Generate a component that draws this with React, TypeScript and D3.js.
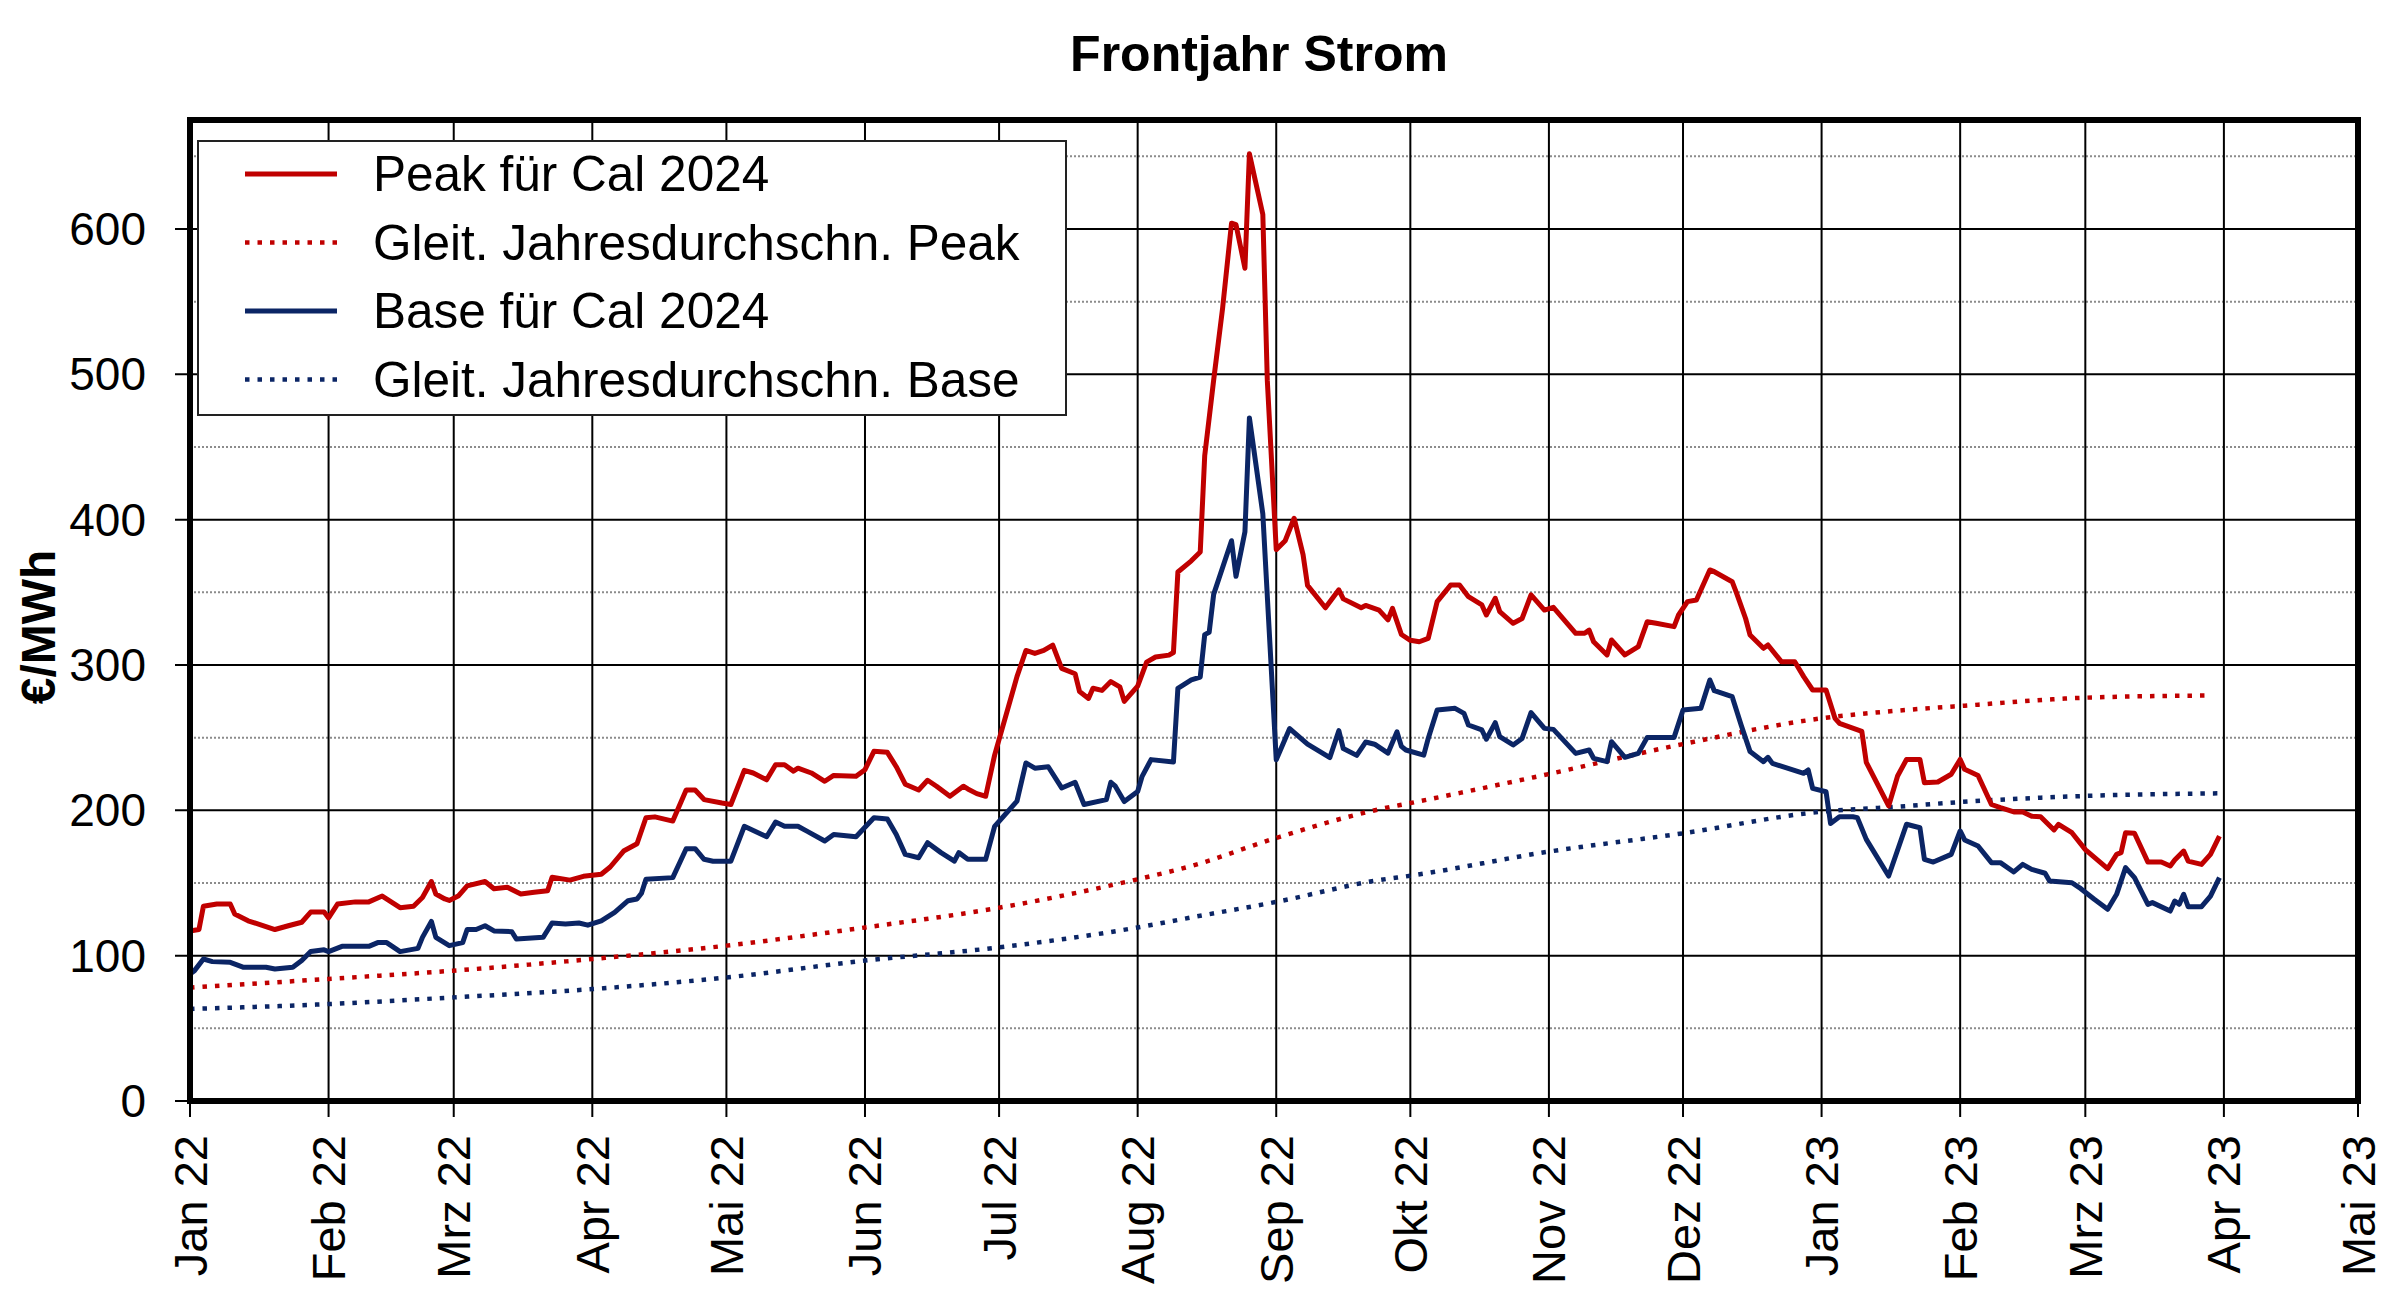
import React from "react";
import * as d3 from "d3";

const title = "Frontjahr Strom";
const yAxisLabel = "€/MWh";
const monthLabels = ["Jan 22","Feb 22","Mrz 22","Apr 22","Mai 22","Jun 22","Jul 22","Aug 22","Sep 22","Okt 22","Nov 22","Dez 22","Jan 23","Feb 23","Mrz 23","Apr 23","Mai 23"];
const yTicks = [0, 100, 200, 300, 400, 500, 600];
const yMinorTicks = [50, 150, 250, 350, 450, 550, 650];
const legendLabels = ["Peak für Cal 2024", "Gleit. Jahresdurchschn. Peak", "Base für Cal 2024", "Gleit. Jahresdurchschn. Base"];

const peak: [string, number][] = [
  ["2022-01-01",117],["2022-01-03",118],["2022-01-04",134],["2022-01-07",135.5],["2022-01-10",135.5],["2022-01-11",128.7],["2022-01-14",124],["2022-01-20",118],["2022-01-23",120.6],["2022-01-26",123],["2022-01-28",130],["2022-01-31",130],
  ["2022-02-01",126],["2022-02-03",135.5],["2022-02-07",137],["2022-02-10",137],["2022-02-13",141],["2022-02-17",133],["2022-02-20",134],["2022-02-22",140],["2022-02-24",151],["2022-02-25",142.4],["2022-02-27",139],["2022-02-28",138],
  ["2022-03-02",141],["2022-03-04",148],["2022-03-08",151],["2022-03-10",146],["2022-03-13",147],["2022-03-16",142.4],["2022-03-19",143.6],["2022-03-22",144.7],["2022-03-23",154],["2022-03-27",152],["2022-03-30",154.6],
  ["2022-04-03",156],["2022-04-05",161],["2022-04-08",172],["2022-04-11",177],["2022-04-13",194.9],["2022-04-15",195.5],["2022-04-19",192.6],["2022-04-22",214],["2022-04-24",214],["2022-04-26",207.4],["2022-04-30",205],
  ["2022-05-02",204],["2022-05-05",227.5],["2022-05-07",225.7],["2022-05-10",221],["2022-05-12",231.4],["2022-05-14",231.4],["2022-05-16",227],["2022-05-17",229],["2022-05-20",225.7],["2022-05-23",220],["2022-05-25",224],["2022-05-30",223.4],
  ["2022-06-01",228],["2022-06-03",240.6],["2022-06-06",239.9],["2022-06-08",230],["2022-06-10",218],["2022-06-13",214],["2022-06-15",220.7],["2022-06-17",216.6],["2022-06-20",209.7],["2022-06-23",216.6],["2022-06-24",214.7],["2022-06-26",211.5],["2022-06-28",209.7],["2022-06-30",238],
  ["2022-07-05",292],["2022-07-07",310],["2022-07-09",308],["2022-07-11",310],["2022-07-13",313.7],["2022-07-15",297.7],["2022-07-18",294],["2022-07-19",281.7],["2022-07-21",277],["2022-07-22",284],["2022-07-24",282.5],["2022-07-26",288.6],["2022-07-28",285],["2022-07-29",275],
  ["2022-08-01",285.5],["2022-08-03",302],["2022-08-05",305.5],["2022-08-08",306.8],["2022-08-09",308.6],["2022-08-10",364],["2022-08-13",371.7],["2022-08-15",377.8],["2022-08-16",444],["2022-08-18",496],["2022-08-20",545.5],["2022-08-22",604],["2022-08-23",603],["2022-08-25",573],["2022-08-26",651.7],["2022-08-29",610],["2022-08-30",496],
  ["2022-09-01",379.4],["2022-09-03",385.5],["2022-09-05",401],["2022-09-07",376],["2022-09-08",354.8],["2022-09-12",339.4],["2022-09-15",351.7],["2022-09-16",345.5],["2022-09-20",339.4],["2022-09-21",341],["2022-09-24",337.8],["2022-09-26",331],["2022-09-27",339],["2022-09-29",321],
  ["2022-10-01",317],["2022-10-03",316],["2022-10-05",318.3],["2022-10-07",343.6],["2022-10-10",355],["2022-10-12",355],["2022-10-14",347],["2022-10-17",341.3],["2022-10-18",334.4],["2022-10-20",345.9],["2022-10-21",336.7],["2022-10-24",328.7],["2022-10-26",332],["2022-10-28",348.2],["2022-10-31",337.8],
  ["2022-11-02",339.7],["2022-11-07",321.8],["2022-11-09",321.8],["2022-11-10",324],["2022-11-11",316],["2022-11-14",306.9],["2022-11-15",317.2],["2022-11-18",306.9],["2022-11-21",312.6],["2022-11-23",329.8],["2022-11-25",328.7],["2022-11-29",326.4],["2022-11-30",334.4],
  ["2022-12-02",343.6],["2022-12-04",344.7],["2022-12-07",365.4],["2022-12-08",364.2],["2022-12-12",357.3],["2022-12-13",349.3],["2022-12-15",332],["2022-12-16",320.6],["2022-12-19",311.5],["2022-12-20",313.8],["2022-12-23",302.3],["2022-12-26",302.3],["2022-12-28",292],["2022-12-30",282.8],
  ["2023-01-02",282.8],["2023-01-04",263.3],["2023-01-05",259.9],["2023-01-10",254.4],["2023-01-11",233],["2023-01-16",203],["2023-01-18",223.6],["2023-01-20",235],["2023-01-23",235],["2023-01-24",219],["2023-01-27",219.5],["2023-01-30",224.8],
  ["2023-02-01",235],["2023-02-02",228.2],["2023-02-05",224],["2023-02-08",204],["2023-02-10",201.8],["2023-02-13",198.9],["2023-02-15",198.9],["2023-02-17",196],["2023-02-19",195.6],["2023-02-22",186.5],["2023-02-23",190.4],["2023-02-26",184.6],
  ["2023-03-01",173],["2023-03-06",159.9],["2023-03-08",169.7],["2023-03-09",170.9],["2023-03-10",184.6],["2023-03-12",184.2],["2023-03-15",164.4],["2023-03-18",164.4],["2023-03-20",161.7],["2023-03-21",165.8],["2023-03-23",172],["2023-03-24",165.1],["2023-03-27",162.8],["2023-03-29",169.7],["2023-03-31",182.3]
];

const base: [string, number][] = [
  ["2022-01-01",87.4],["2022-01-02",89.7],["2022-01-04",97.7],["2022-01-06",95.9],["2022-01-10",95.4],["2022-01-13",92],["2022-01-18",92],["2022-01-20",90.8],["2022-01-24",92],["2022-01-26",96.6],["2022-01-28",102.8],["2022-01-31",104],
  ["2022-02-01",102.8],["2022-02-04",106.4],["2022-02-10",106.4],["2022-02-12",109],["2022-02-14",109],["2022-02-17",102.8],["2022-02-21",105],["2022-02-22",112.6],["2022-02-24",123.6],["2022-02-25",112.6],["2022-02-28",106.9],
  ["2022-03-03",109],["2022-03-04",118],["2022-03-06",118],["2022-03-08",120.6],["2022-03-10",117],["2022-03-14",116.5],["2022-03-15",111.5],["2022-03-21",112.6],["2022-03-23",122.5],["2022-03-26",121.8],["2022-03-29",122.5],["2022-03-31",121],
  ["2022-04-03",124],["2022-04-06",129.8],["2022-04-09",137.8],["2022-04-11",139],["2022-04-12",143],["2022-04-13",152.6],["2022-04-19",153.7],["2022-04-22",173.6],["2022-04-24",173.6],["2022-04-26",166.3],["2022-04-28",165],
  ["2022-05-02",165],["2022-05-05",189],["2022-05-10",181.8],["2022-05-12",191.9],["2022-05-14",189],["2022-05-17",189],["2022-05-19",185.7],["2022-05-23",178.9],["2022-05-25",183.4],["2022-05-30",181.8],
  ["2022-06-03",194.9],["2022-06-06",194],["2022-06-08",183.4],["2022-06-10",169.7],["2022-06-13",167.4],["2022-06-15",177.7],["2022-06-18",170.9],["2022-06-21",165],["2022-06-22",170.9],["2022-06-24",166.3],["2022-06-28",166.3],["2022-06-30",189],
  ["2022-07-05",206.3],["2022-07-07",232.6],["2022-07-09",229],["2022-07-12",230],["2022-07-15",215.4],["2022-07-18",219.3],["2022-07-20",204],["2022-07-25",207.4],["2022-07-26",219.3],["2022-07-27",216.6],["2022-07-29",206],
  ["2022-08-01",213],["2022-08-02",223.4],["2022-08-04",234.9],["2022-08-09",233.2],["2022-08-10",284],["2022-08-13",289.7],["2022-08-15",291.7],["2022-08-16",320.9],["2022-08-17",322.5],["2022-08-18",348.6],["2022-08-22",385.5],["2022-08-23",361],["2022-08-25",391.7],["2022-08-26",470],["2022-08-29",404],
  ["2022-09-01",234.8],["2022-09-04",256.3],["2022-09-08",245.5],["2022-09-13",236.3],["2022-09-15",254.8],["2022-09-16",242.5],["2022-09-19",237.8],["2022-09-21",247],["2022-09-23",245.5],["2022-09-26",239.4],["2022-09-28",254],["2022-09-29",244],["2022-09-30",241.5],
  ["2022-10-04",238],["2022-10-05",249.5],["2022-10-07",269],["2022-10-11",270.2],["2022-10-13",266.7],["2022-10-14",258.7],["2022-10-17",255.3],["2022-10-18",248.9],["2022-10-20",260.3],["2022-10-21",250.7],["2022-10-24",245],["2022-10-26",249.5],["2022-10-28",267.2],["2022-10-31",256.4],
  ["2022-11-02",255.7],["2022-11-07",239.2],["2022-11-10",241.5],["2022-11-11",235.8],["2022-11-14",233.5],["2022-11-15",247.2],["2022-11-18",236.5],["2022-11-21",239.2],["2022-11-23",250.2],["2022-11-29",250.2],
  ["2022-12-01",269],["2022-12-05",270.2],["2022-12-07",289.7],["2022-12-08",282.3],["2022-12-12",278.2],["2022-12-14",258.7],["2022-12-16",240.4],["2022-12-19",233.5],["2022-12-20",236.5],["2022-12-21",232.3],["2022-12-28",225.5],["2022-12-29",227.8],["2022-12-30",215.1],
  ["2023-01-02",212.8],["2023-01-03",191],["2023-01-05",195.6],["2023-01-08",195.6],["2023-01-09",195],["2023-01-11",180],["2023-01-16",154.8],["2023-01-20",190.4],["2023-01-23",188],["2023-01-24",166.3],["2023-01-26",164.4],["2023-01-30",169.7],
  ["2023-02-01",185.8],["2023-02-02",179.6],["2023-02-05",175.5],["2023-02-08",164],["2023-02-10",164],["2023-02-13",157.6],["2023-02-15",162.8],["2023-02-17",159.4],["2023-02-20",156.7],["2023-02-21",151.4],["2023-02-26",150.2],["2023-02-28",146.1],
  ["2023-03-03",138.8],["2023-03-06",131.9],["2023-03-08",142.2],["2023-03-10",160.6],["2023-03-12",153.7],["2023-03-15",135.3],["2023-03-16",136.5],["2023-03-20",130.7],["2023-03-21",137.6],["2023-03-22",135.3],["2023-03-23",142.2],["2023-03-24",133.7],["2023-03-27",133.7],["2023-03-29",141],["2023-03-31",153.7]
];

const peakAvg: [string, number][] = [
  ["2022-01-01",78],["2022-02-01",84],["2022-03-01",89.7],["2022-04-01",97.7],["2022-05-01",106.9],["2022-06-01",119.4],["2022-07-01",133],["2022-08-01",152.6],["2022-08-13",161.7],["2022-09-01",181],["2022-09-24",200.7],["2022-10-01",205],["2022-11-01",225],["2022-12-01",245.6],["2023-01-01",263.3],["2023-01-18",268.6],["2023-02-01",271.8],["2023-03-01",277.5],["2023-03-29",279]
];

const baseAvg: [string, number][] = [
  ["2022-01-01",63.3],["2022-02-01",66.7],["2022-03-01",71.3],["2022-04-01",77],["2022-05-01",85],["2022-06-01",96.6],["2022-07-01",105.7],["2022-08-01",119.4],["2022-08-13",126.3],["2022-09-01",137],["2022-09-24",152],["2022-10-01",155],["2022-11-01",171.6],["2022-12-01",184.2],["2023-01-01",199.1],["2023-01-18",202.5],["2023-02-01",205.7],["2023-03-01",209.9],["2023-03-31",211.7]
];

const RED = "#C00000";
const NAVY = "#0B2565";

export default function App() {
  const W = 2400, H = 1306;
  const L = 190, R = 2358, T = 120, B = 1101;
  const parse = d3.timeParse("%Y-%m-%d");
  const x = d3.scaleTime().domain([new Date(2022, 0, 1), new Date(2023, 4, 1)]).range([L, R]);
  const y = d3.scaleLinear().domain([0, 675]).range([B, T]);
  const months = d3.timeMonth.range(new Date(2022, 0, 1), new Date(2023, 4, 2));
  const line = d3.line<[string, number]>().x(d => x(parse(d[0]) as Date)).y(d => y(d[1]));
  const smooth = d3.line<[string, number]>().x(d => x(parse(d[0]) as Date)).y(d => y(d[1])).curve(d3.curveMonotoneX);
  const font = "'Liberation Sans', Arial, sans-serif";

  const legendItems = [
    { label: legendLabels[0], color: RED, dotted: false },
    { label: legendLabels[1], color: RED, dotted: true },
    { label: legendLabels[2], color: NAVY, dotted: false },
    { label: legendLabels[3], color: NAVY, dotted: true },
  ];

  return (
    <div style={{ position: "absolute", left: 0, top: 0 }}>
      <svg width={W} height={H} style={{ display: "block", background: "#fff" }} fontFamily={font}>
        <rect x={0} y={0} width={W} height={H} fill="#fff" />
        <text x={1259} y={71} textAnchor="middle" fontSize={50} fontWeight="bold">{title}</text>
        {yMinorTicks.map(v => (
          <line key={"m" + v} x1={L} x2={R} y1={y(v)} y2={y(v)} stroke="#8c8c8c" strokeWidth={2} strokeDasharray="2 2" />
        ))}
        {yTicks.map(v => (
          <line key={"g" + v} x1={L - 15} x2={R} y1={y(v)} y2={y(v)} stroke="#000" strokeWidth={2} />
        ))}
        {months.map((m, i) => (
          <line key={"v" + i} x1={x(m)} x2={x(m)} y1={T} y2={B + 16} stroke="#000" strokeWidth={2} />
        ))}
        {yTicks.map(v => (
          <text key={"yl" + v} x={146} y={y(v)} textAnchor="end" dominantBaseline="central" fontSize={46}>{v}</text>
        ))}
        {months.map((m, i) => (
          <text key={"xl" + i} transform={`translate(${x(m)},1135) rotate(-90)`} textAnchor="end" dominantBaseline="central" fontSize={47}>{monthLabels[i]}</text>
        ))}
        <text transform={`translate(38,627) rotate(-90)`} textAnchor="middle" dominantBaseline="central" fontSize={48} fontWeight="bold">{yAxisLabel}</text>
        <path d={smooth(peakAvg) || ""} fill="none" stroke={RED} strokeWidth={4.5} strokeDasharray="4.5 8" />
        <path d={smooth(baseAvg) || ""} fill="none" stroke={NAVY} strokeWidth={4.5} strokeDasharray="4.5 8" />
        <path d={line(base) || ""} fill="none" stroke={NAVY} strokeWidth={5} strokeLinejoin="round" />
        <path d={line(peak) || ""} fill="none" stroke={RED} strokeWidth={5} strokeLinejoin="round" />
        <rect x={L} y={T} width={R - L} height={B - T} fill="none" stroke="#000" strokeWidth={6} />
        <rect x={198} y={141} width={868} height={274} fill="#fff" stroke="#222" strokeWidth={2} />
        {legendItems.map((it, i) => {
          const cy = 174 + i * 68.5;
          return (
            <g key={"lg" + i}>
              <line x1={245} x2={337} y1={cy} y2={cy} stroke={it.color} strokeWidth={it.dotted ? 4.5 : 5}
                strokeDasharray={it.dotted ? "4.5 8" : undefined} />
              <text x={373} y={cy + 17} fontSize={49.5}>{it.label}</text>
            </g>
          );
        })}
      </svg>
    </div>
  );
}
